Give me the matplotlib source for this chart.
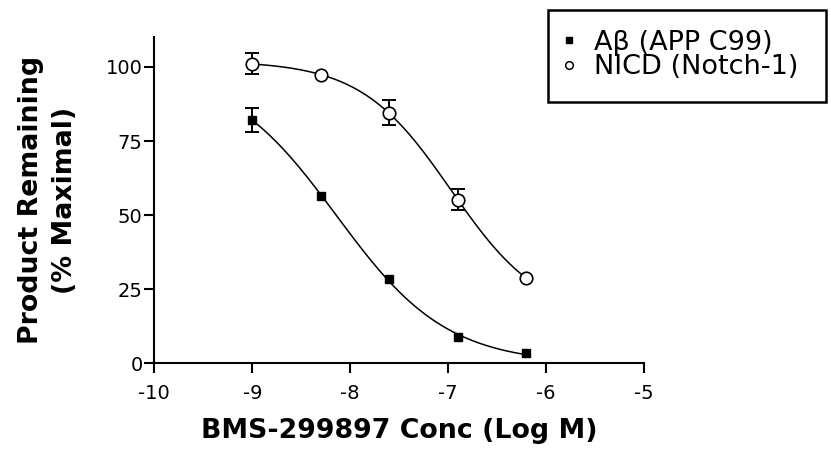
import numpy as np
import matplotlib
matplotlib.use("Agg")
import matplotlib.pyplot as plt
from matplotlib.lines import Line2D
from matplotlib.patches import Rectangle

plt.rcParams['font.family'] = ['DejaVu Sans']

# ---- data ----
log_conc = [-9.0, -8.301, -7.602, -6.903, -6.204]
abeta_vals = [82.1, 56.6, 28.4, 8.8, 3.4]
abeta_err = [4.2, 0.0, 0.0, 0.0, 0.0]
nicd_vals = [101.1, 97.2, 84.5, 55.2, 28.8]
nicd_err = [3.5, 0.0, 4.2, 3.5, 0.0]
series_labels = ['A\u03b2 (APP C99)', 'NICD (Notch-1)']
x_ticks = [-10, -9, -8, -7, -6, -5]
y_ticks = [0, 25, 50, 75, 100]
x_label = 'BMS-299897 Conc (Log M)'
y_label = 'Product Remaining\n(% Maximal)'


def sigmoid_fit(x, y):
    """Four-parameter logistic fit (grid over logIC50 / Hill, linear in bottom/span)."""
    x = np.asarray(x, float)
    y = np.asarray(y, float)
    cs = np.linspace(-10, -5, 501)[:, None, None]
    hs = np.linspace(0.3, 2.5, 221)[None, :, None]
    f = 1.0 / (1.0 + 10 ** ((x[None, None, :] - cs) * hs))
    fm = f.mean(-1, keepdims=True)
    ym = y.mean()
    a = ((f - fm) * (y - ym)).sum(-1, keepdims=True) / ((f - fm) ** 2).sum(-1, keepdims=True)
    b = ym - a * fm
    sse = ((b + a * f - y) ** 2).sum(-1)
    i, j = np.unravel_index(np.argmin(sse), sse.shape)
    c, h = cs[i, 0, 0], hs[0, j, 0]
    A, B = a[i, j, 0], b[i, j, 0]
    return lambda t: B + A / (1.0 + 10 ** ((t - c) * h))


def with_err(x, y, e):
    keep = [k for k in range(len(x)) if e[k] > 0]
    return [x[k] for k in keep], [y[k] for k in keep], [e[k] for k in keep]


fig = plt.figure(figsize=(8.31, 4.58), dpi=100)
ax = fig.add_axes([0.1857, 0.2068, 0.5893, 0.7118])

xs = np.linspace(min(log_conc), max(log_conc), 300)
fa = sigmoid_fit(log_conc, abeta_vals)
fn = sigmoid_fit(log_conc, nicd_vals)
ax.plot(xs, fa(xs), color='black', lw=1.1, zorder=2)
ax.plot(xs, fn(xs), color='black', lw=1.1, zorder=2)

ex, ey, ee = with_err(log_conc, abeta_vals, abeta_err)
ax.errorbar(ex, ey, yerr=ee, fmt='none', ecolor='black', elinewidth=1.4,
            capsize=5, capthick=1.4, zorder=2.5)
ex, ey, ee = with_err(log_conc, nicd_vals, nicd_err)
ax.errorbar(ex, ey, yerr=ee, fmt='none', ecolor='black', elinewidth=1.4,
            capsize=5, capthick=1.4, zorder=2.5)

ax.plot(log_conc, abeta_vals, 's', ms=6, mfc='black', mec='black', zorder=3)
ax.plot(log_conc, nicd_vals, 'o', ms=9, mfc='white', mec='black', mew=1.2, zorder=3)

ax.set_xlim(-10, -5)
ax.set_ylim(0, 110)
ax.set_xticks(x_ticks)
ax.set_yticks(y_ticks)
ax.set_xticklabels([str(t) for t in x_ticks])
ax.set_yticklabels([str(t) for t in y_ticks])
for s in ['top', 'right']:
    ax.spines[s].set_visible(False)
for s in ['left', 'bottom']:
    ax.spines[s].set_linewidth(1.5)
ax.tick_params(axis='both', direction='out', length=7, width=1.5, labelsize=14)
ax.tick_params(axis='x', pad=8)
ax.tick_params(axis='y', pad=1.5)

ax.set_xlabel(x_label, fontsize=19.3, fontweight='bold')
ax.xaxis.set_label_coords(0.5, -0.169)
ax.set_ylabel(y_label, fontsize=19.3, fontweight='bold', linespacing=1.4)
ax.yaxis.set_label_coords(-0.1558, 0.5)

handles = [
    Line2D([], [], marker='s', ls='none', color='black', ms=5),
    Line2D([], [], marker='o', ls='none', mfc='white', mec='black', mew=1.1, ms=5.5),
]
leg = fig.legend(handles, series_labels, loc='upper left',
                 bbox_to_anchor=(0.6775, 0.9355), fontsize=19.5,
                 frameon=False, borderpad=0, labelspacing=-0.05,
                 handlelength=0.43, handletextpad=0.7, borderaxespad=0)
fig.patches.append(Rectangle((0.6594, 0.778), 0.3345, 0.2002,
                             transform=fig.transFigure, fill=False,
                             edgecolor='black', linewidth=1.8, zorder=5))

fig.savefig('out.png', dpi=100)
